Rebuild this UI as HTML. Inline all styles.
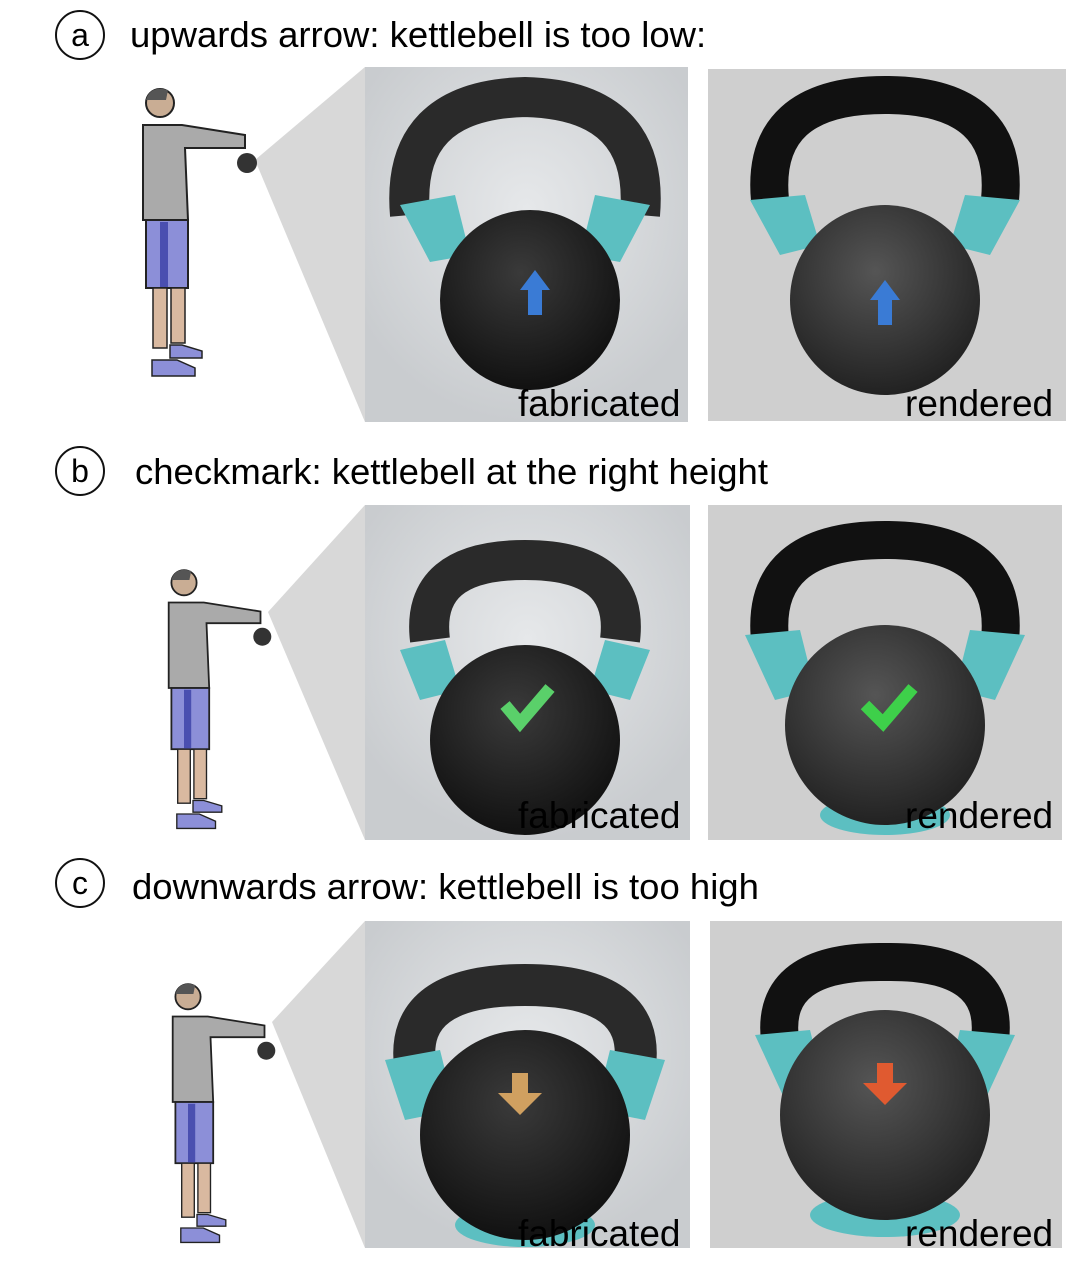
<!DOCTYPE html>
<html><head><style>
body{margin:0;width:1066px;height:1262px;background:#fff;position:relative;overflow:hidden;font-family:"Liberation Sans",Arial,sans-serif}
.t{position:absolute;font-size:36.5px;color:#000;white-space:nowrap}
.c{position:absolute;width:50px;height:50px;border:2px solid #111;border-radius:50%;text-align:center;line-height:46px;font-size:32px;box-sizing:border-box}
.lab{position:absolute;font-size:37px;color:#000}
</style></head><body>
<svg width="1066" height="1262" style="position:absolute;left:0;top:0">
<defs>
<radialGradient id="bf" cx="50%" cy="40%" r="60%"><stop offset="0" stop-color="#e6e8ea"/><stop offset="1" stop-color="#c9cccf"/></radialGradient>
<radialGradient id="ball" cx="45%" cy="35%" r="65%"><stop offset="0" stop-color="#3a3a3a"/><stop offset="1" stop-color="#111"/></radialGradient>
<radialGradient id="ball2" cx="45%" cy="35%" r="65%"><stop offset="0" stop-color="#555"/><stop offset="1" stop-color="#222"/></radialGradient>
</defs>
<polygon points="255,160 365,67 365,422" fill="#d8d8d8"/>
<polygon points="268,612 365,505 365,840" fill="#d8d8d8"/>
<polygon points="272,1022 365,921 365,1248" fill="#d8d8d8"/>
<rect x="365" y="67" width="323" height="355" fill="url(#bf)"/>
<rect x="708" y="69" width="358" height="352" fill="#cfcfcf"/>
<rect x="365" y="505" width="325" height="335" fill="url(#bf)"/>
<rect x="708" y="505" width="354" height="335" fill="#cfcfcf"/>
<rect x="365" y="921" width="325" height="327" fill="url(#bf)"/>
<rect x="710" y="921" width="352" height="327" fill="#cfcfcf"/>
<path d="M410,215 Q400,100 525,97 Q650,100 640,215" fill="none" stroke="#2a2a2a" stroke-width="40"/>
<path d="M400,205 L455,195 L470,255 L430,262Z M650,205 L595,195 L580,255 L620,262Z" fill="#5cbfc1"/>
<circle cx="530" cy="300" r="90" fill="url(#ball)"/>
<path d="M520,290 l15,-20 l15,20 h-8 v25 h-14 v-25Z" fill="#3a7bd5"/>
<path d="M770,200 Q760,95 885,95 Q1010,95 1000,200" fill="none" stroke="#111" stroke-width="38"/>
<path d="M750,200 L805,195 L820,245 L780,255Z M1020,200 L965,195 L950,245 L990,255Z" fill="#5cbfc1"/>
<circle cx="885" cy="300" r="95" fill="url(#ball2)"/>
<path d="M870,300 l15,-20 l15,20 h-8 v25 h-14 v-25Z" fill="#3a7bd5"/>
<path d="M430,640 Q420,560 525,560 Q630,560 620,640" fill="none" stroke="#2a2a2a" stroke-width="40"/>
<path d="M400,650 L445,640 L460,690 L420,700Z M650,650 L605,640 L590,690 L630,700Z" fill="#5cbfc1"/>
<circle cx="525" cy="740" r="95" fill="url(#ball)"/>
<path d="M505,705 l15,18 l30,-35" fill="none" stroke="#5ad06a" stroke-width="12"/>
<path d="M770,640 Q760,540 885,540 Q1010,540 1000,640" fill="none" stroke="#111" stroke-width="38"/>
<path d="M745,635 L800,630 L815,690 L775,700Z M1025,635 L970,630 L955,690 L995,700Z" fill="#5cbfc1"/>
<ellipse cx="885" cy="815" rx="65" ry="20" fill="#5cbfc1"/>
<circle cx="885" cy="725" r="100" fill="url(#ball2)"/>
<path d="M865,705 l18,18 l30,-35" fill="none" stroke="#3ed04a" stroke-width="12"/>
<path d="M415,1065 Q405,985 525,985 Q645,985 635,1065" fill="none" stroke="#2a2a2a" stroke-width="42"/>
<path d="M385,1060 L440,1050 L455,1110 L405,1120Z M665,1060 L610,1050 L595,1110 L645,1120Z" fill="#5cbfc1"/>
<ellipse cx="525" cy="1225" rx="70" ry="22" fill="#5cbfc1"/>
<circle cx="525" cy="1135" r="105" fill="url(#ball)"/>
<path d="M520,1115 l-22,-22 h14 v-20 h16 v20 h14Z" fill="#d0a060"/>
<path d="M780,1040 Q770,960 885,962 Q1000,960 990,1040" fill="none" stroke="#111" stroke-width="38"/>
<path d="M755,1035 L810,1030 L825,1090 L785,1100Z M1015,1035 L960,1030 L945,1090 L985,1100Z" fill="#5cbfc1"/>
<ellipse cx="885" cy="1215" rx="75" ry="22" fill="#5cbfc1"/>
<circle cx="885" cy="1115" r="105" fill="url(#ball2)"/>
<path d="M885,1105 l-22,-22 h14 v-20 h16 v20 h14Z" fill="#e05a30"/>
<g id="fig">
<circle cx="160" cy="103" r="14" fill="#c9ad94" stroke="#222" stroke-width="2"/>
<path d="M146,100 Q150,85 168,90 L166,100Z" fill="#555"/>
<path d="M143,125 L182,125 L245,135 L245,148 L185,148 L188,220 L143,220Z" fill="#aaa" stroke="#222" stroke-width="2"/>
<rect x="146" y="220" width="42" height="68" fill="#8c8fd8" stroke="#222" stroke-width="2"/>
<rect x="160" y="222" width="8" height="65" fill="#4a4fb0"/>
<rect x="153" y="288" width="14" height="60" fill="#d9b9a0" stroke="#222" stroke-width="1.5"/>
<rect x="171" y="288" width="14" height="55" fill="#d9b9a0" stroke="#222" stroke-width="1.5"/>
<path d="M152,360 h25 l18,8 v8 h-43Z" fill="#8c8fd8" stroke="#222" stroke-width="1.5"/>
<path d="M170,345 h12 l20,6 v7 h-32Z" fill="#8c8fd8" stroke="#222" stroke-width="1.5"/>
<circle cx="247" cy="163" r="10" fill="#333"/>
</g>
<use href="#fig" transform="translate(40,490) scale(0.9)"/>
<use href="#fig" transform="translate(44,904) scale(0.9)"/>
</svg>
<div class="c" style="left:55px;top:10px">a</div>
<div class="t" style="left:130px;top:14px">upwards arrow: kettlebell is too low:</div>
<div class="c" style="left:55px;top:446px">b</div>
<div class="t" style="left:135px;top:451px">checkmark: kettlebell at the right height</div>
<div class="c" style="left:55px;top:858px">c</div>
<div class="t" style="left:132px;top:866px">downwards arrow: kettlebell is too high</div>
<div class="lab" style="left:518px;top:383px">fabricated</div>
<div class="lab" style="left:905px;top:383px">rendered</div>
<div class="lab" style="left:518px;top:795px">fabricated</div>
<div class="lab" style="left:905px;top:795px">rendered</div>
<div class="lab" style="left:518px;top:1213px">fabricated</div>
<div class="lab" style="left:905px;top:1213px">rendered</div>
</body></html>
